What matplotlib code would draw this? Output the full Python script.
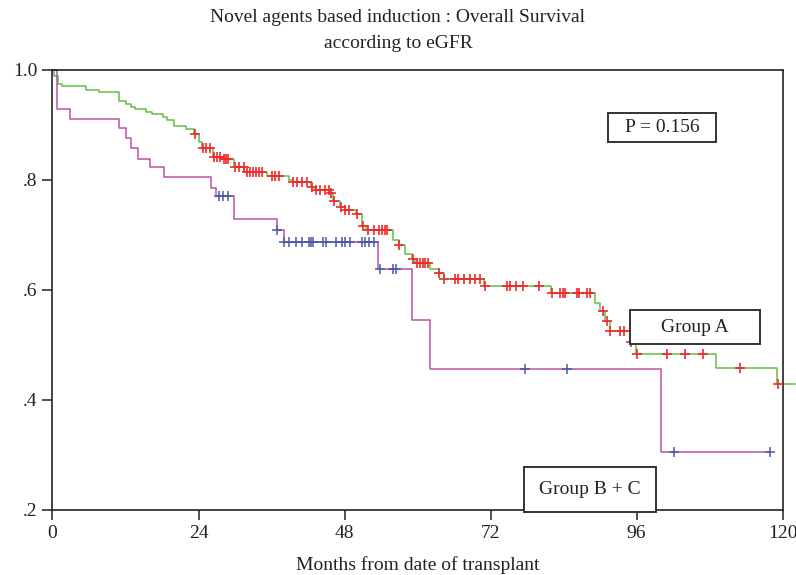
import numpy as np
import matplotlib
matplotlib.use("Agg")
import matplotlib.pyplot as plt
from matplotlib.patches import Rectangle

plt.rcParams['font.family'] = ['Liberation Serif', 'DejaVu Serif']

# Group A (green curve, red censor marks)
a_times = [0, 0.3, 0.9, 1.5, 5.5, 7.6, 11.0, 12.0, 12.9, 13.6, 15.4, 16.4, 18.1, 18.9,
           19.9, 21.9, 23.3, 24.0, 24.5, 26.4, 28.1, 29.9, 31.5, 35.2, 38.9, 39.5, 42.5,
           43.2, 45.6, 46.1, 47.3, 48.0, 49.9, 50.9, 51.5, 56.0, 56.9, 58.0, 59.1, 59.6,
           62.1, 63.5, 64.3, 71.0, 81.9, 89.1, 90.0, 90.9, 91.6, 95.0, 95.9, 109.0, 119.1,
           122.0]
a_surv = [1.0, 0.99, 0.974, 0.971, 0.964, 0.960, 0.943, 0.939, 0.933, 0.930, 0.924, 0.920,
          0.914, 0.910, 0.899, 0.893, 0.884, 0.870, 0.859, 0.842, 0.838, 0.824, 0.815, 0.807,
          0.800, 0.796, 0.788, 0.782, 0.776, 0.761, 0.751, 0.745, 0.739, 0.716, 0.709, 0.691,
          0.682, 0.665, 0.656, 0.649, 0.638, 0.631, 0.620, 0.608, 0.595, 0.577, 0.562, 0.544,
          0.526, 0.506, 0.484, 0.459, 0.429, 0.429]
a_censor = [23.4, 24.8, 25.3, 25.9, 26.5, 27.0, 27.5, 28.2, 28.5, 28.9, 30.0, 30.7, 31.4,
            31.9, 32.4, 32.9, 33.4, 33.9, 34.5, 36.0, 36.6, 37.2, 39.6, 40.2, 41.0, 41.8,
            42.6, 43.3, 44.0, 44.8, 45.4, 45.7, 46.2, 47.4, 48.1, 48.7, 50.0, 51.0, 51.9,
            52.9, 53.6, 54.2, 54.6, 55.0, 57.0, 59.2, 59.9, 60.4, 60.9, 61.3, 61.7, 63.6,
            64.4, 66.2, 66.7, 67.6, 68.6, 69.5, 70.3, 71.1, 74.7, 75.2, 76.2, 77.4, 79.9,
            82.1, 83.5, 83.9, 84.3, 86.2, 86.6, 87.9, 88.4, 90.5, 91.1, 91.7, 93.3, 93.9,
            95.1, 96.0, 101.0, 103.9, 107.0, 113.0, 119.2]

# Group B + C (pink curve, blue censor marks)
bc_times = [0, 0.8, 2.9, 11.0, 12.0, 12.9, 14.0, 16.0, 18.4, 26.0, 26.8, 29.8, 36.9, 38.0,
            53.5, 59.1, 62.0, 100.1, 118.0]
bc_surv = [1.0, 0.929, 0.911, 0.894, 0.876, 0.858, 0.839, 0.823, 0.805, 0.786, 0.771, 0.730,
           0.709, 0.688, 0.638, 0.545, 0.456, 0.305, 0.305]
bc_censor = [27.3, 28.1, 28.9, 36.9, 38.1, 38.9, 40.0, 41.0, 42.1, 42.5, 42.9, 44.5, 45.0,
             46.6, 47.6, 48.1, 48.9, 50.9, 51.4, 52.1, 52.9, 53.9, 56.0, 56.4, 77.6, 84.6,
             102.1, 118.0]

x_ticks = [0, 24, 48, 72, 96, 120]
y_ticks = [0.2, 0.4, 0.6, 0.8, 1.0]
y_tick_labels = ['.2', '.4', '.6', '.8', '1.0']


def surv_at(times, surv, t):
    idx = np.searchsorted(times, t, side='right') - 1
    return np.array(surv)[idx]


fig = plt.figure(figsize=(7.96, 5.75), dpi=100)
ax = fig.add_axes([52.5 / 796, 1 - 510 / 575, 730 / 796, 440 / 575])

green = '#62bf48'
pink = '#bb52a6'
red = '#ee2a2a'
blue = '#4a5aa8'

ax.step(a_times, a_surv, where='post', color=green, lw=1.1, clip_on=False, zorder=2)
ax.step(bc_times, bc_surv, where='post', color=pink, lw=1.1, clip_on=False, zorder=2)
ax.plot(a_censor, surv_at(a_times, a_surv, a_censor), '+', color=red,
        ms=7.5, mew=1.2, clip_on=False, zorder=3)
ax.plot(bc_censor, surv_at(bc_times, bc_surv, bc_censor), '+', color=blue,
        ms=7.5, mew=1.1, clip_on=False, zorder=3)

ax.set_xlim(0, 120)
ax.set_ylim(0.2, 1.0)
ax.set_xticks(x_ticks)
ax.set_xticklabels([str(t) for t in x_ticks])
ax.set_yticks(y_ticks)
ax.set_yticklabels(y_tick_labels)
ax.tick_params(axis='both', direction='out', length=7, width=1.1, labelsize=14,
               color='#222222', labelcolor='#222222')
ax.tick_params(axis='x', pad=4)
ax.tick_params(axis='y', pad=4)
for sp in ax.spines.values():
    sp.set_linewidth(1.2)
    sp.set_color('#222222')

ax.set_xlabel('Months from date of transplant', fontsize=14, labelpad=10, color='#222222')

fig.text(0.5, 1 - 18 / 575, 'Novel agents based induction : Overall Survival',
         ha='center', va='center', fontsize=14, color='#222222')
fig.text(0.5, 1 - 43 / 575, 'according to eGFR',
         ha='center', va='center', fontsize=14, color='#222222')


def label_box(x0, y0, w, h, text):
    ax.add_patch(Rectangle((x0, y0), w, h, transform=ax.transAxes, facecolor='white',
                           edgecolor='#333333', lw=1.4, zorder=5, clip_on=False))
    ax.text(x0 + w / 2, y0 + h / 2, text, transform=ax.transAxes, ha='center',
            va='center', fontsize=14, color='#222222', zorder=6)


label_box(0.761, 0.836, 0.148, 0.066, 'P = 0.156')
label_box(0.791, 0.377, 0.178, 0.077, 'Group A')
label_box(0.646, -0.0045, 0.181, 0.102, 'Group B + C')

fig.savefig('out.png', dpi=100)
